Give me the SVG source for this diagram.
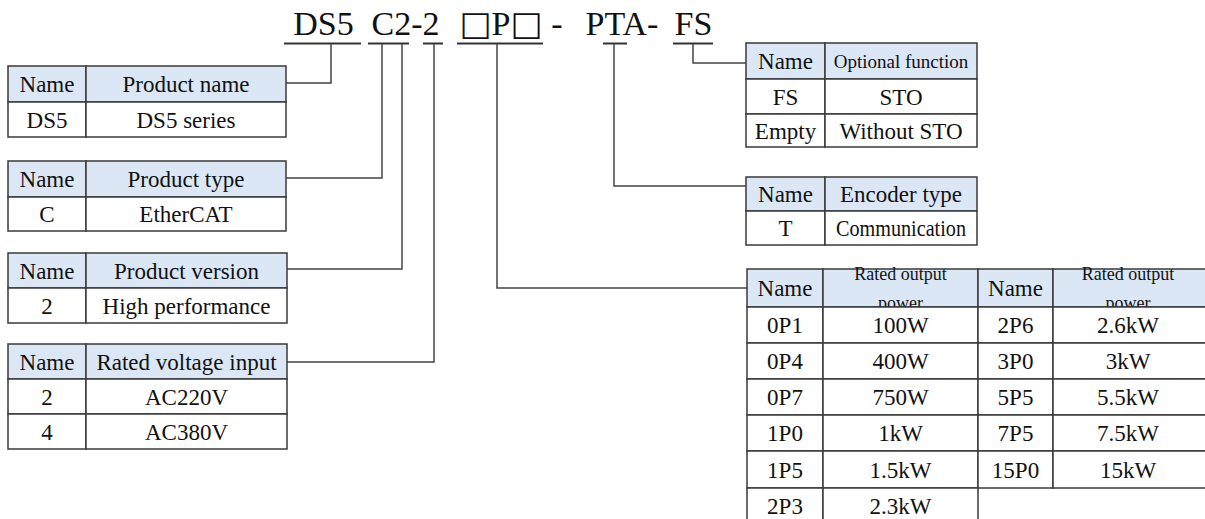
<svg xmlns="http://www.w3.org/2000/svg" width="1205" height="519" viewBox="0 0 1205 519" font-family="'Liberation Serif', 'Times New Roman', serif">
<style>
text{font-family:"Liberation Serif","Times New Roman",serif;fill:#111;font-size:23px;text-anchor:middle}
.title{font-size:34px}
.sq{font-family:"DejaVu Sans","Liberation Serif",serif}
.sm{font-size:19px}
.xs{font-size:18px}
.h{fill:#dce7f5;stroke:#3a3a3a;stroke-width:1.5}
.c{fill:#fff;stroke:#3a3a3a;stroke-width:1.5}
.ln{fill:none;stroke:#444;stroke-width:1.5}
.ul{stroke:#333;stroke-width:1.8}
</style>
<rect width="1205" height="519" fill="#fff"/>
<g id="title">
<text class="title" y="35"><tspan x="323.5">DS5</tspan><tspan x="405.5">C2-2</tspan><tspan x="501"><tspan class="sq">□</tspan>P<tspan class="sq">□</tspan></tspan><tspan x="557">-</tspan><tspan x="622">PTA-</tspan><tspan x="693.5">FS</tspan></text>
<path class="ul" d="M284 43.5H361M368 43.5H409M423 43.5H443M457 43.5H543M603 43.5H627M673 43.5H713"/>
</g>
<g id="connectors">
<path class="ln" d="M331 44V83H286"/>
<path class="ln" d="M382 44V178H286"/>
<path class="ln" d="M402 44V269H287"/>
<path class="ln" d="M434 44V362H287"/>
<path class="ln" d="M497 44V288H747"/>
<path class="ln" d="M614 44V186H746"/>
<path class="ln" d="M693 44V63H746"/>
</g>
<g id="table-product-name">
<rect class="h" x="8" y="66" width="78" height="36"/><rect class="h" x="86" y="66" width="200" height="36"/>
<rect class="c" x="8" y="102" width="78" height="35"/><rect class="c" x="86" y="102" width="200" height="35"/>
<text x="47" y="92">Name</text><text x="186" y="92">Product name</text>
<text x="47" y="127.5">DS5</text><text x="186" y="127.5">DS5 series</text>
</g>
<g id="table-product-type">
<rect class="h" x="8" y="161" width="78" height="36"/><rect class="h" x="86" y="161" width="200" height="36"/>
<rect class="c" x="8" y="197" width="78" height="34"/><rect class="c" x="86" y="197" width="200" height="34"/>
<text x="47" y="187">Name</text><text x="186" y="187">Product type</text>
<text x="47" y="222">C</text><text x="186" y="222">EtherCAT</text>
</g>
<g id="table-product-version">
<rect class="h" x="8" y="253" width="78" height="35"/><rect class="h" x="86" y="253" width="201" height="35"/>
<rect class="c" x="8" y="288" width="78" height="35"/><rect class="c" x="86" y="288" width="201" height="35"/>
<text x="47" y="278.5">Name</text><text x="186.5" y="278.5">Product version</text>
<text x="47" y="313.5">2</text><text x="186.5" y="313.5">High performance</text>
</g>
<g id="table-voltage">
<rect class="h" x="8" y="344" width="78" height="35"/><rect class="h" x="86" y="344" width="201" height="35"/>
<rect class="c" x="8" y="379" width="78" height="35"/><rect class="c" x="86" y="379" width="201" height="35"/>
<rect class="c" x="8" y="414" width="78" height="35"/><rect class="c" x="86" y="414" width="201" height="35"/>
<text x="47" y="369.5">Name</text><text x="186.5" y="369.5">Rated voltage input</text>
<text x="47" y="404.5">2</text><text x="186.5" y="404.5">AC220V</text>
<text x="47" y="439.5">4</text><text x="186.5" y="439.5">AC380V</text>
</g>
<g id="table-optional">
<rect class="h" x="746" y="43" width="79" height="36"/><rect class="h" x="825" y="43" width="152" height="36"/>
<rect class="c" x="746" y="79" width="79" height="35"/><rect class="c" x="825" y="79" width="152" height="35"/>
<rect class="c" x="746" y="114" width="79" height="33"/><rect class="c" x="825" y="114" width="152" height="33"/>
<text x="785.5" y="69">Name</text><text class="sm" x="901" y="67.5">Optional function</text>
<text x="785.5" y="104.5">FS</text><text x="901" y="104.5">STO</text>
<text x="785.5" y="138.5">Empty</text><text x="901" y="138.5">Without STO</text>
</g>
<g id="table-encoder">
<rect class="h" x="746" y="177" width="79" height="34"/><rect class="h" x="825" y="177" width="152" height="34"/>
<rect class="c" x="746" y="211" width="79" height="34"/><rect class="c" x="825" y="211" width="152" height="34"/>
<text x="785.5" y="202">Name</text><text x="901" y="202">Encoder type</text>
<text x="785.5" y="236">T</text><text x="901" y="236" textLength="130" lengthAdjust="spacingAndGlyphs">Communication</text>
</g>
<g id="table-power">
<rect class="h" x="747" y="269" width="76" height="38"/><rect class="h" x="823" y="269" width="155" height="38"/>
<rect class="h" x="978" y="269" width="75" height="38"/><rect class="h" x="1053" y="269" width="160" height="38"/>
<text x="785" y="296">Name</text><text x="1015.5" y="296">Name</text>
<text class="xs" x="900.5" y="280">Rated output</text><text class="xs" x="900.5" y="309">power</text>
<text class="xs" x="1128" y="280">Rated output</text><text class="xs" x="1128" y="309">power</text>
<g>
<rect class="c" x="747" y="307" width="76" height="36"/><rect class="c" x="823" y="307" width="155" height="36"/><rect class="c" x="978" y="307" width="75" height="36"/><rect class="c" x="1053" y="307" width="160" height="36"/>
<rect class="c" x="747" y="343" width="76" height="36"/><rect class="c" x="823" y="343" width="155" height="36"/><rect class="c" x="978" y="343" width="75" height="36"/><rect class="c" x="1053" y="343" width="160" height="36"/>
<rect class="c" x="747" y="379" width="76" height="36"/><rect class="c" x="823" y="379" width="155" height="36"/><rect class="c" x="978" y="379" width="75" height="36"/><rect class="c" x="1053" y="379" width="160" height="36"/>
<rect class="c" x="747" y="415" width="76" height="36"/><rect class="c" x="823" y="415" width="155" height="36"/><rect class="c" x="978" y="415" width="75" height="36"/><rect class="c" x="1053" y="415" width="160" height="36"/>
<rect class="c" x="747" y="451" width="76" height="37"/><rect class="c" x="823" y="451" width="155" height="37"/><rect class="c" x="978" y="451" width="75" height="37"/><rect class="c" x="1053" y="451" width="160" height="37"/>
<rect class="c" x="747" y="488" width="76" height="40"/><rect class="c" x="823" y="488" width="155" height="40"/>
</g>
<text x="785" y="333">0P1</text><text x="900.5" y="333">100W</text><text x="1015.5" y="333">2P6</text><text x="1128" y="333">2.6kW</text>
<text x="785" y="369">0P4</text><text x="900.5" y="369">400W</text><text x="1015.5" y="369">3P0</text><text x="1128" y="369">3kW</text>
<text x="785" y="405">0P7</text><text x="900.5" y="405">750W</text><text x="1015.5" y="405">5P5</text><text x="1128" y="405">5.5kW</text>
<text x="785" y="441">1P0</text><text x="900.5" y="441">1kW</text><text x="1015.5" y="441">7P5</text><text x="1128" y="441">7.5kW</text>
<text x="785" y="477.5">1P5</text><text x="900.5" y="477.5">1.5kW</text><text x="1015.5" y="477.5">15P0</text><text x="1128" y="477.5">15kW</text>
<text x="785" y="514">2P3</text><text x="900.5" y="514">2.3kW</text>
</g>
</svg>
